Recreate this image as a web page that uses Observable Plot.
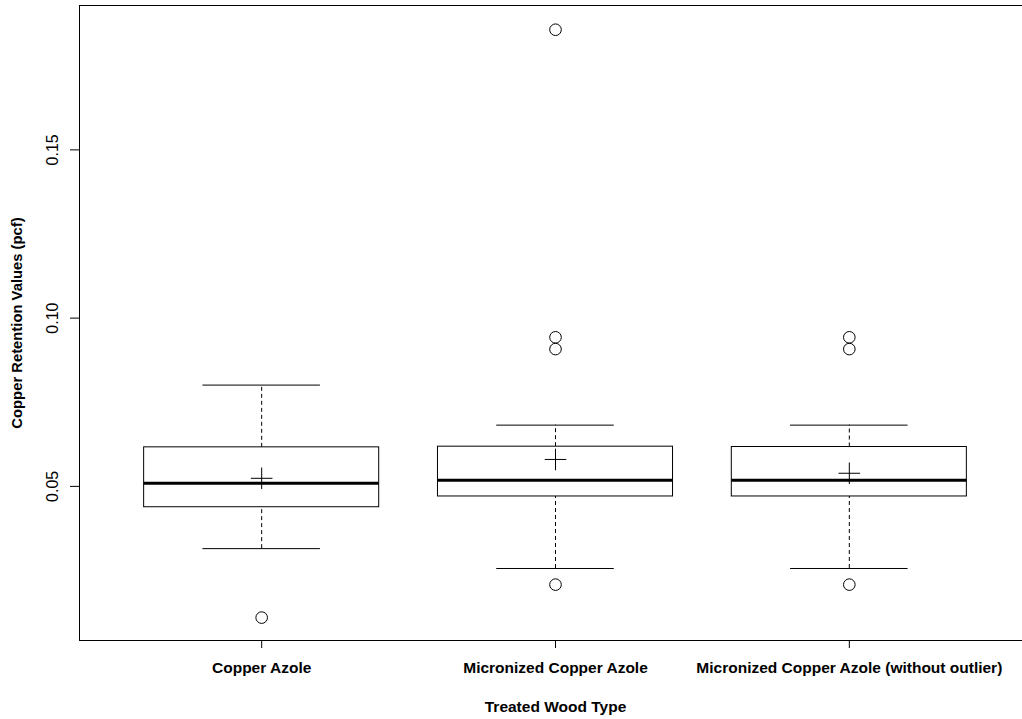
<!DOCTYPE html>
<html>
<head>
<meta charset="utf-8">
<script src="https://cdn.jsdelivr.net/npm/d3@7"></script>
<script src="https://cdn.jsdelivr.net/npm/@observablehq/plot@0.6"></script>
<style>
  html, body { margin: 0; padding: 0; background: #fff; overflow: hidden; }
  #chart { width: 1022px; height: 719px; overflow: hidden; }
  #chart svg { max-width: none !important; }
</style>
</head>
<body>
<div id="chart"></div>
<script>
// Categories (box positions 1..3)
const categories = ["Copper Azole", "Micronized Copper Azole", "Micronized Copper Azole (without outlier)"];
// Five-number summaries and means (pcf)
const lowerWhisker = [0.0315, 0.0256, 0.0256];
const q1 = [0.0438, 0.0470, 0.0470];
const median = [0.0509, 0.0518, 0.0518];
const q3 = [0.0616, 0.0618, 0.0617];
const upperWhisker = [0.0801, 0.0682, 0.0682];
const means = [0.0524, 0.0580, 0.0539];
// Outliers: group index (1-based position) and value
const outlierGroup = [1, 2, 2, 2, 2, 3, 3, 3];
const outlierValue = [0.0110, 0.1857, 0.0943, 0.0908, 0.0208, 0.0943, 0.0908, 0.0208];
// Axis ticks
const yTicks = [0.05, 0.10, 0.15];
const yTickLabels = ["0.05", "0.10", "0.15"];

const boxes = categories.map((c, i) => ({
  pos: i + 1, name: c,
  lo: lowerWhisker[i], q1: q1[i], med: median[i], q3: q3[i], hi: upperWhisker[i], mean: means[i]
}));
const outliers = outlierGroup.map((g, i) => ({pos: g, value: outlierValue[i]}));

const halfBox = 0.4;   // R boxplot default width 0.8
const halfCap = 0.2;   // staple width

const font = "'Liberation Sans', Arial, sans-serif";

const chart = Plot.plot({
  width: 1031,
  height: 719,
  marginLeft: 79,
  marginRight: 0,
  marginTop: 5,
  marginBottom: 79,
  style: {fontFamily: font, fontSize: "16px", background: "#fff", color: "#000", maxWidth: "none"},
  x: {domain: [0.38, 3.62], label: null},
  y: {domain: [0.0042, 0.1929], label: null},
  marks: [
    Plot.frame({stroke: "#000", strokeWidth: 1}),
    Plot.axisX({
      ticks: [1, 2, 3],
      tickFormat: d => categories[d - 1],
      tickSize: 8,
      tickPadding: 13,
      fontWeight: "bold",
      fontSize: 15.5,
      label: null,
      stroke: "#000"
    }),
    Plot.axisY({
      ticks: yTicks,
      tickFormat: (d, i) => yTickLabels[i],
      tickSize: 9,
      tickPadding: 13,
      tickRotate: -90,
      fontSize: 16,
      label: null,
      stroke: "#000"
    }),
    // whiskers (dashed)
    Plot.ruleX(boxes, {x: "pos", y1: "q3", y2: "hi", stroke: "#000", strokeWidth: 1, strokeDasharray: "4,3"}),
    Plot.ruleX(boxes, {x: "pos", y1: "lo", y2: "q1", stroke: "#000", strokeWidth: 1, strokeDasharray: "4,3"}),
    // staples
    Plot.ruleY(boxes, {y: "hi", x1: d => d.pos - halfCap, x2: d => d.pos + halfCap, stroke: "#000", strokeWidth: 1}),
    Plot.ruleY(boxes, {y: "lo", x1: d => d.pos - halfCap, x2: d => d.pos + halfCap, stroke: "#000", strokeWidth: 1}),
    // boxes
    Plot.rect(boxes, {x1: d => d.pos - halfBox, x2: d => d.pos + halfBox, y1: "q1", y2: "q3", fill: "none", stroke: "#000", strokeWidth: 1}),
    // medians
    Plot.ruleY(boxes, {y: "med", x1: d => d.pos - halfBox, x2: d => d.pos + halfBox, stroke: "#000", strokeWidth: 3}),
    // means
    Plot.dot(boxes, {x: "pos", y: "mean", symbol: "plus", r: 7, stroke: "#000", strokeWidth: 1}),
    // outliers
    Plot.dot(outliers, {x: "pos", y: "value", r: 5.8, fill: "none", stroke: "#000", strokeWidth: 1}),
    // axis titles
    Plot.text(["Copper Retention Values (pcf)"], {frameAnchor: "left", dx: -62, rotate: -90, textAnchor: "middle", lineAnchor: "middle", fontWeight: "bold", fontSize: 14.8, fill: "#000"}),
    Plot.text(["Treated Wood Type"], {frameAnchor: "bottom", dy: 67, lineAnchor: "middle", fontWeight: "bold", fontSize: 15.5, fill: "#000"})
  ]
});
document.getElementById("chart").appendChild(chart);
</script>
</body>
</html>
